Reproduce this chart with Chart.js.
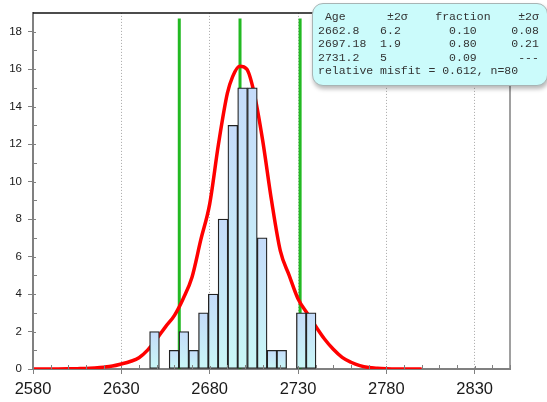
<!DOCTYPE html>
<html>
<head>
<meta charset="utf-8">
<script src="https://cdn.jsdelivr.net/npm/chart.js@4/dist/chart.umd.min.js"></script>
<style>
    body { margin: 0; background: #fff; }
    .wrap { position: relative; width: 547px; height: 402px; overflow: hidden; }
    .peaks {
        position: absolute; left: 312px; top: 3px; width: 236px; height: 83px;
        box-sizing: border-box; border: 1px solid #a8b4b4; border-radius: 11px;
        background: #cbfbfb; box-shadow: 1px 3px 4px rgba(0, 0, 0, 0.28);
        margin: 0; padding: 6px 0 0 5px;
        font: 11.5px/13.5px "Liberation Mono", "DejaVu Sans Mono", monospace;
        color: #333; white-space: pre;
    }
</style>
</head>
<body>
<div class="wrap">
    <canvas id="ageChart" width="547" height="402"></canvas>
    <pre class="peaks" id="peakTable"></pre>
</div>
<script>
// histogram bins (centres) and counts
const binCenters = [2648.77, 2659.85, 2665.39, 2670.93, 2676.47, 2682.01, 2687.55, 2693.09,
                    2698.63, 2704.17, 2709.71, 2715.25, 2720.79, 2731.87, 2737.41];
const binCounts  = [2, 1, 2, 1, 3, 4, 8, 13, 15, 15, 7, 1, 1, 3, 3];

// mixture density curve
const curveAges = [2580, 2590, 2600, 2605, 2610, 2615, 2620, 2625, 2630, 2635, 2640, 2645,
                   2650, 2655, 2660, 2665, 2670, 2675, 2680, 2685, 2690, 2693, 2697, 2701,
                   2705, 2710, 2715, 2720, 2725, 2730, 2735, 2740, 2745, 2750, 2755, 2760,
                   2765, 2770, 2775, 2780, 2790, 2800];
const curveDensity = [0, 0, 0.01, 0.02, 0.03, 0.06, 0.1, 0.16, 0.27, 0.4, 0.6, 1.02,
                      1.6, 2.25, 2.85, 3.75, 4.9, 6.9, 8.8, 12.0, 14.7, 15.6, 16.15, 16.0,
                      14.8, 12.2, 9.0, 6.3, 5.0, 3.75, 3.0, 2.28, 1.6, 1.05, 0.62, 0.36,
                      0.18, 0.08, 0.04, 0.02, 0, 0];

// fitted components
const peakAges      = [2662.8, 2697.18, 2731.2];
const peakSigma     = ['6.2', '1.9', '5'];
const peakFraction  = ['0.10', '0.80', '0.09'];
const fractionSigma = ['0.08', '0.21', '---'];
const peakLineTop = 18.7;
const misfit = '0.612';
const nGrains = 80;

const xTicks = [2580, 2630, 2680, 2730, 2780, 2830];
const yTicks = [0, 2, 4, 6, 8, 10, 12, 14, 16, 18];
const xMinorStep = 10;

const pad = (s, n) => s + ' '.repeat(Math.max(0, n - s.length));
const lpad = (s, n) => ' '.repeat(Math.max(0, n - s.length)) + s;
const rows = [' ' + pad('Age', 9) + pad('±2σ', 7) + pad('fraction', 12) + '±2σ'];
peakAges.forEach((a, i) => {
    rows.push(pad(String(a), 9) + pad(peakSigma[i], 10) + pad(peakFraction[i], 9) + lpad(fractionSigma[i], 4));
});
rows.push(`relative misfit = ${misfit}, n=${nGrains}`);
document.getElementById('peakTable').textContent = rows.join('\n');

const axisGray = '#808080';

const frame = {
    id: 'frame',
    afterDatasetsDraw(chart) {
        const { ctx, chartArea: a, scales: { x, y } } = chart;
        ctx.save();
        ctx.strokeStyle = axisGray;
        ctx.lineWidth = 1;
        ctx.beginPath();
        // minor ticks point inward
        for (let v = xTicks[0]; v <= x.max; v += xMinorStep) {
            const px = Math.round(x.getPixelForValue(v)) + 0.5;
            ctx.moveTo(px, a.bottom);
            ctx.lineTo(px, a.bottom - (xTicks.includes(v) ? 3 : 4));
        }
        for (let v = 1; v < y.max; v++) {
            const py = Math.round(y.getPixelForValue(v)) + 0.5;
            ctx.moveTo(a.left, py);
            ctx.lineTo(a.left + (v % 2 ? 4 : 3), py);
        }
        ctx.stroke();

        ctx.lineWidth = 1.5;
        ctx.beginPath();
        ctx.moveTo(a.right, a.top);
        ctx.lineTo(a.right, a.bottom);
        ctx.stroke();
        ctx.strokeStyle = '#111';
        ctx.beginPath();
        ctx.moveTo(a.left, a.top);
        ctx.lineTo(a.right, a.top);
        ctx.stroke();
        ctx.restore();
    }
};

const barFill = (c) => {
    const { chart, parsed } = c;
    if (!parsed || !chart.chartArea) return '#c8e6f8';
    const ys = chart.scales.y;
    const g = chart.ctx.createLinearGradient(0, ys.getPixelForValue(parsed.y), 0, ys.getPixelForValue(0));
    g.addColorStop(0, '#c5dbfa');
    g.addColorStop(1, '#c9f7f6');
    return g;
};

const peakLines = peakAges.map((a) => ({
    type: 'line',
    data: [{ x: a, y: 0 }, { x: a, y: peakLineTop }],
    borderColor: '#22b922',
    borderWidth: 3,
    pointRadius: 0,
    order: 2
}));

new Chart(document.getElementById('ageChart'), {
    type: 'bar',
    data: {
        datasets: [
            {
                data: binCenters.map((c, i) => ({ x: c, y: binCounts[i] })),
                backgroundColor: barFill,
                borderColor: '#222',
                borderWidth: 1.3,
                borderSkipped: false,
                barPercentage: 1,
                categoryPercentage: 1,
                order: 0
            },
            {
                type: 'line',
                data: curveAges.map((a, i) => ({ x: a, y: curveDensity[i] })),
                borderColor: '#ff0000',
                borderWidth: 3.5,
                pointRadius: 0,
                cubicInterpolationMode: 'monotone',
                order: 1
            },
            ...peakLines
        ]
    },
    options: {
        responsive: false,
        devicePixelRatio: 1,
        animation: false,
        layout: { padding: { top: 11, right: 37, left: 0, bottom: 0 } },
        plugins: { legend: { display: false }, tooltip: { enabled: false } },
        scales: {
            x: {
                type: 'linear',
                min: 2580,
                max: 2850,
                offset: false,
                afterBuildTicks: (axis) => { axis.ticks = xTicks.map(v => ({ value: v })); },
                afterFit: (axis) => { axis.height = 33; },
                grid: { offset: false, color: '#a8a8a8', lineWidth: 1, tickColor: axisGray, tickLength: 5 },
                border: { color: axisGray, width: 2, dash: [1, 2] },
                ticks: {
                    padding: 6,
                    maxRotation: 0,
                    color: '#1a1a1a',
                    font: { family: 'Liberation Sans', size: 16.5 },
                    callback: (v) => String(v)
                }
            },
            y: {
                min: 0,
                max: 19,
                afterBuildTicks: (axis) => { axis.ticks = yTicks.map(v => ({ value: v })); },
                afterFit: (axis) => { axis.width = 33; },
                grid: { drawOnChartArea: false, tickColor: axisGray, tickLength: 5 },
                border: { color: axisGray, width: 2 },
                ticks: {
                    padding: 6,
                    color: '#1a1a1a',
                    font: { family: 'Liberation Sans', size: 11.5 }
                }
            }
        }
    },
    plugins: [frame]
});
</script>
</body>
</html>
